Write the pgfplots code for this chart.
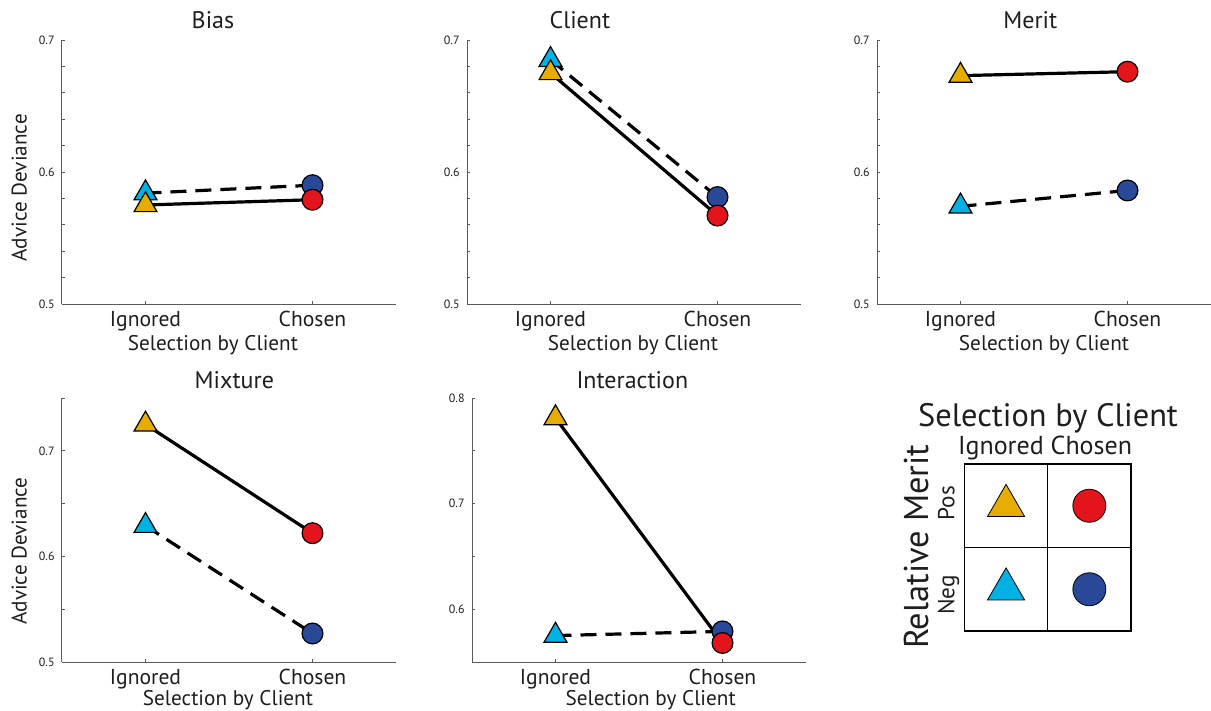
\documentclass[border=0pt]{standalone}
\usepackage{pgfplots}
\pgfplotsset{compat=1.18}
\usepackage{fontspec}
\setmainfont{PT Sans}
\definecolor{cY}{RGB}{230,172,0}
\definecolor{cC}{RGB}{0,178,228}
\definecolor{cR}{RGB}{228,20,28}
\definecolor{cN}{RGB}{42,72,152}
\definecolor{axg}{RGB}{90,90,90}
\definecolor{txt}{RGB}{30,30,30}

\pgfplotsset{
  panel/.style={
    scale only axis, width=167pt, height=132pt,
    axis x line*=bottom, axis y line*=left,
    axis line style={axg, line width=0.5pt},
    xmin=-0.5, xmax=1.5,
    xtick={0,1}, xticklabels={Ignored,Chosen},
    tick align=inside, major tick length=1.5pt, minor tick length=1.5pt,
    tick style={axg, line width=0.5pt},
    xticklabel style={font=\fontsize{10.8}{12}\selectfont, text=txt, anchor=base, inner sep=0pt, yshift=-11.3pt},
    yticklabel style={font=\fontsize{6}{7}\selectfont, text=txt, anchor=east, inner sep=0pt, xshift=-3.5pt},
    /pgf/number format/fixed, /pgf/number format/fixed zerofill, /pgf/number format/precision=1,
    /pgf/number format/assume math mode=true,
    xlabel={Selection by Client},
    every axis title/.style={font=\fontsize{12}{14}\selectfont, text=txt, anchor=base},
    every axis x label/.style={font=\fontsize{10.6}{12}\selectfont, text=txt, anchor=base},
    every axis y label/.style={font=\fontsize{10.6}{12}\selectfont, text=txt, anchor=base, rotate=90},
    clip=false,
  },
  toprow/.style={ymin=0.5, ymax=0.7, ytick={0.5,0.6,0.7},
    minor ytick={0.52,0.54,0.56,0.58,0.62,0.64,0.66,0.68}},
  posline/.style={black, line width=1.6pt, no marks},
  negline/.style={black, line width=1.6pt, dash pattern=on 8pt off 4.5pt, no marks},
  tri/.style={only marks, mark=triangle*, mark size=6.6pt, mark options={draw=black, line width=0.6pt, fill=#1, solid}},
  circ/.style={only marks, mark=*, mark size=5.2pt, mark options={draw=black, line width=0.6pt, fill=#1, solid}},
}

\begin{document}
\begin{tikzpicture}
\path[use as bounding box] (0,0) rectangle (605.5pt,-355.5pt);

% Bias
\begin{axis}[panel, toprow, at={(31pt,-152pt)}, anchor=south west,
  title={Bias}, title style={at={(axis description cs:0.452,1)}, yshift=5.85pt},
  xlabel style={at={(axis description cs:0.452,0)}, yshift=-23pt},
  ylabel={Advice Deviance}, ylabel style={at={(axis description cs:-0.106,0.44)}}]
\addplot[negline] coordinates {(0,0.584) (1,0.590)};
\addplot[posline] coordinates {(0,0.575) (1,0.579)};
\addplot[tri=cC] coordinates {(0,0.584)};
\addplot[circ=cN] coordinates {(1,0.590)};
\addplot[tri=cY] coordinates {(0,0.575)};
\addplot[circ=cR] coordinates {(1,0.579)};
\end{axis}

% Client
\begin{axis}[panel, toprow, at={(233.5pt,-152pt)}, anchor=south west,
  title={Client}, title style={at={(axis description cs:0.338,1)}, yshift=5.85pt},
  xlabel style={at={(axis description cs:0.497,0)}, yshift=-23pt}]
\addplot[negline] coordinates {(0,0.685) (1,0.581)};
\addplot[posline] coordinates {(0,0.675) (1,0.567)};
\addplot[tri=cC] coordinates {(0,0.685)};
\addplot[circ=cN] coordinates {(1,0.581)};
\addplot[tri=cY] coordinates {(0,0.675)};
\addplot[circ=cR] coordinates {(1,0.567)};
\end{axis}

% Merit
\begin{axis}[panel, toprow, at={(438.5pt,-152pt)}, anchor=south west,
  title={Merit}, title style={at={(axis description cs:0.459,1)}, yshift=5.85pt},
  xlabel style={at={(axis description cs:0.5,0)}, yshift=-23pt}]
\addplot[negline] coordinates {(0,0.574) (1,0.586)};
\addplot[posline] coordinates {(0,0.673) (1,0.676)};
\addplot[tri=cC] coordinates {(0,0.574)};
\addplot[circ=cN] coordinates {(1,0.586)};
\addplot[tri=cY] coordinates {(0,0.673)};
\addplot[circ=cR] coordinates {(1,0.676)};
\end{axis}

% Mixture
\begin{axis}[panel, at={(31pt,-331pt)}, anchor=south west,
  ymin=0.5, ymax=0.75, ytick={0.5,0.6,0.7}, minor ytick={0.55,0.65,0.75},
  title={Mixture}, title style={at={(axis description cs:0.516,1)}, yshift=4.85pt},
  xlabel style={at={(axis description cs:0.497,0)}, yshift=-21.5pt},
  ylabel={Advice Deviance}, ylabel style={at={(axis description cs:-0.106,0.42)}}]
\addplot[negline] coordinates {(0,0.629) (1,0.527)};
\addplot[posline] coordinates {(0,0.725) (1,0.622)};
\addplot[tri=cC] coordinates {(0,0.629)};
\addplot[circ=cN] coordinates {(1,0.527)};
\addplot[tri=cY] coordinates {(0,0.725)};
\addplot[circ=cR] coordinates {(1,0.622)};
\end{axis}

% Interaction
\begin{axis}[panel, at={(236pt,-331pt)}, anchor=south west,
  ymin=0.55, ymax=0.8, ytick={0.6,0.7,0.8}, minor ytick={0.55,0.65,0.75},
  title={Interaction}, title style={at={(axis description cs:0.48,1)}, yshift=4.5pt},
  xlabel style={at={(axis description cs:0.535,0)}, yshift=-21.7pt}]
\addplot[negline] coordinates {(0,0.575) (1,0.579)};
\addplot[posline] coordinates {(0,0.781) (1,0.568)};
\addplot[tri=cC] coordinates {(0,0.575)};
\addplot[circ=cN] coordinates {(1,0.579)};
\addplot[tri=cY] coordinates {(0,0.781)};
\addplot[circ=cR] coordinates {(1,0.568)};
\end{axis}

% Legend panel
\begin{axis}[at={(482.2pt,-315.5pt)}, anchor=south west, scale only axis,
  width=83.3pt, height=83.5pt, xmin=-0.5, xmax=1.5, ymin=-0.5, ymax=1.5,
  xtick={0.5}, ytick={0.5}, xticklabels={}, yticklabels={},
  major tick length=0pt, grid=major, grid style={black, line width=0.6pt},
  axis line style={black, line width=0.6pt}, clip=false]
\addplot[only marks, mark=triangle*, mark size=10.7pt, mark options={draw=none, fill=cY}] coordinates {(0,1)};
\addplot[only marks, mark=*, mark size=8.25pt, mark options={draw=none, fill=cR}] coordinates {(1,1)};
\addplot[only marks, mark=triangle*, mark size=10.7pt, mark options={draw=none, fill=cC}] coordinates {(0,0)};
\addplot[only marks, mark=*, mark size=8.25pt, mark options={draw=none, fill=cN}] coordinates {(1,0)};
\node[anchor=base, text=txt, font=\fontsize{16.2}{18}\selectfont] at (axis description cs:0.502,1.223) {Selection by Client};
\node[anchor=base, text=txt, font=\fontsize{13}{14}\selectfont] at (axis description cs:0.484,1.054) {Ignored Chosen};
\node[anchor=base, rotate=90, text=txt, font=\fontsize{17.2}{19}\selectfont] at (axis description cs:-0.216,0.505) {Relative Merit};
\node[anchor=base, rotate=90, text=txt, font=\fontsize{11.6}{13}\selectfont] at (axis description cs:-0.06,0.766) {Pos};
\node[anchor=base, rotate=90, text=txt, font=\fontsize{11.6}{13}\selectfont] at (axis description cs:-0.06,0.216) {Neg};
\end{axis}
\end{tikzpicture}
\end{document}
